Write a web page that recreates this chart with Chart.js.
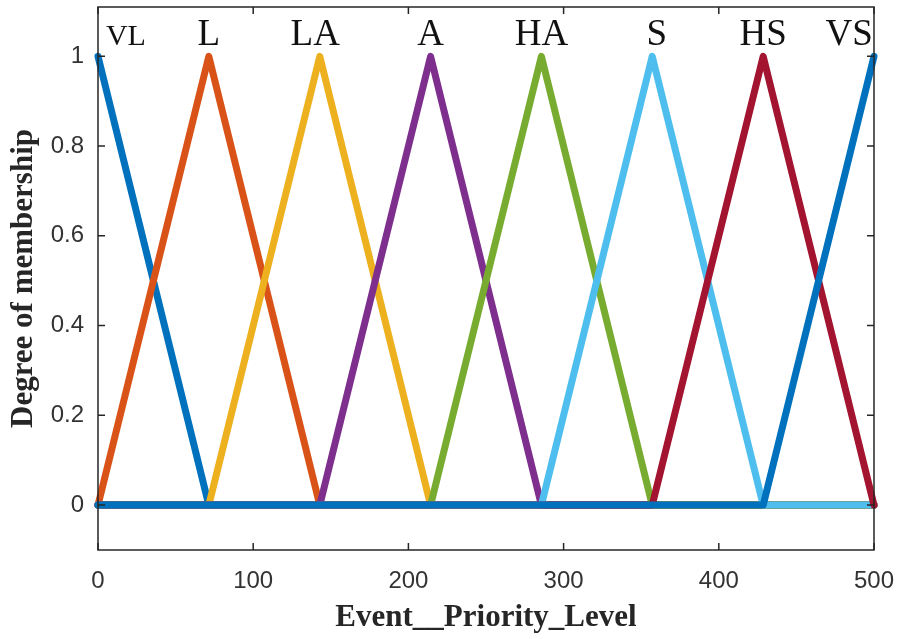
<!DOCTYPE html>
<html>
<head>
<meta charset="utf-8">
<script src="https://cdn.jsdelivr.net/npm/chart.js@4.4.0/dist/chart.umd.min.js"></script>
<style>
    html, body { margin: 0; padding: 0; background: #fff; }
    #wrap { width: 899px; height: 639px; }
</style>
</head>
<body>
<div id="wrap"><canvas id="mfChart" width="899" height="639"></canvas></div>
<script>
// breakpoints of the triangular membership functions
const centers = [0, 71.4, 142.9, 214.3, 285.7, 357.1, 428.6, 500];
const setNames = ['VL', 'L', 'LA', 'A', 'HA', 'S', 'HS', 'VS'];

const vlValues = [1, 0, 0, 0, 0, 0, 0, 0];
const lValues  = [0, 1, 0, 0, 0, 0, 0, 0];
const laValues = [0, 0, 1, 0, 0, 0, 0, 0];
const aValues  = [0, 0, 0, 1, 0, 0, 0, 0];
const haValues = [0, 0, 0, 0, 1, 0, 0, 0];
const sValues  = [0, 0, 0, 0, 0, 1, 0, 0];
const hsValues = [0, 0, 0, 0, 0, 0, 1, 0];
const vsValues = [0, 0, 0, 0, 0, 0, 0, 1];

// where the set names sit (data coords)
const nameX = [18, 71.4, 140, 214.3, 285.7, 360, 428.6, 484];
const nameY = 1.025;

const xTicks = [0, 100, 200, 300, 400, 500];
const yTicks = [0, 0.2, 0.4, 0.6, 0.8, 1];

const colors = ['#0072BD', '#D95319', '#EDB120', '#7E2F8E', '#77AC30', '#4DBEEE', '#A2142F', '#0072BD'];
const allValues = [vlValues, lValues, laValues, aValues, haValues, sValues, hsValues, vsValues];

const datasets = allValues.map((vals, i) => ({
    label: setNames[i],
    data: vals.map((v, j) => ({ x: centers[j], y: v })),
    borderColor: colors[i],
    borderWidth: 7,
    borderJoinStyle: 'round',
    borderCapStyle: 'round',
    pointRadius: 0,
    tension: 0,
    fill: false,
    clip: 6,
    order: 7 - i
}));

// box + inward ticks, MATLAB style
const boxPlugin = {
    id: 'boxPlugin',
    afterDatasetsDraw(chart) {
        const { ctx, chartArea: a, scales } = chart;
        ctx.save();
        ctx.strokeStyle = '#262626';
        ctx.lineWidth = 1.5;
        ctx.strokeRect(a.left, a.top, a.right - a.left, a.bottom - a.top);
        const len = 7;
        ctx.beginPath();
        xTicks.forEach(t => {
            const px = scales.x.getPixelForValue(t);
            ctx.moveTo(px, a.bottom); ctx.lineTo(px, a.bottom - len);
            ctx.moveTo(px, a.top); ctx.lineTo(px, a.top + len);
        });
        yTicks.forEach(t => {
            const py = scales.y.getPixelForValue(t);
            ctx.moveTo(a.left, py); ctx.lineTo(a.left + len, py);
            ctx.moveTo(a.right, py); ctx.lineTo(a.right - len, py);
        });
        ctx.stroke();

        ctx.fillStyle = '#111';
        ctx.textAlign = 'center';
        ctx.textBaseline = 'alphabetic';
        setNames.forEach((n, i) => {
            ctx.font = (i === 0 ? '30px' : '37px') + ' "Liberation Serif", "Times New Roman", serif';
            ctx.fillText(n, scales.x.getPixelForValue(nameX[i]), scales.y.getPixelForValue(nameY));
        });
        ctx.restore();
    }
};

const tickFont = { family: '"Liberation Sans", Arial, sans-serif', size: 24 };
const titleFont = { family: '"Liberation Serif", "Times New Roman", serif', size: 31, weight: 'bold' };

new Chart(document.getElementById('mfChart'), {
    type: 'line',
    data: { datasets: datasets },
    options: {
        responsive: false,
        animation: false,
        layout: { padding: { top: 7, right: 25, left: 0, bottom: 0 } },
        plugins: { legend: { display: false }, tooltip: { enabled: false } },
        scales: {
            x: {
                type: 'linear',
                min: 0, max: 500,
                grid: { display: false, drawTicks: false },
                border: { display: false },
                afterBuildTicks: s => { s.ticks = xTicks.map(v => ({ value: v })); },
                afterFit: s => { s.height = 89; s.paddingLeft = 0; s.paddingRight = 0; },
                ticks: { color: '#333', font: tickFont, padding: 17, maxRotation: 0,
                    callback: v => String(v) },
                title: { display: true, text: 'Event__Priority_Level', color: '#262626',
                    font: titleFont, padding: { top: 0, bottom: 2 } }
            },
            y: {
                type: 'linear',
                min: -0.1, max: 1.11,
                grid: { display: false, drawTicks: false },
                border: { display: false },
                afterBuildTicks: s => { s.ticks = yTicks.map(v => ({ value: v })); },
                afterFit: s => { s.width = 98; s.paddingTop = 0; s.paddingBottom = 0; },
                ticks: { color: '#333', font: tickFont, padding: 14,
                    callback: v => String(v) },
                title: { display: true, text: 'Degree of membership', color: '#262626',
                    font: titleFont, padding: { top: 5, bottom: 0 } }
            }
        }
    },
    plugins: [boxPlugin]
});
</script>
</body>
</html>
